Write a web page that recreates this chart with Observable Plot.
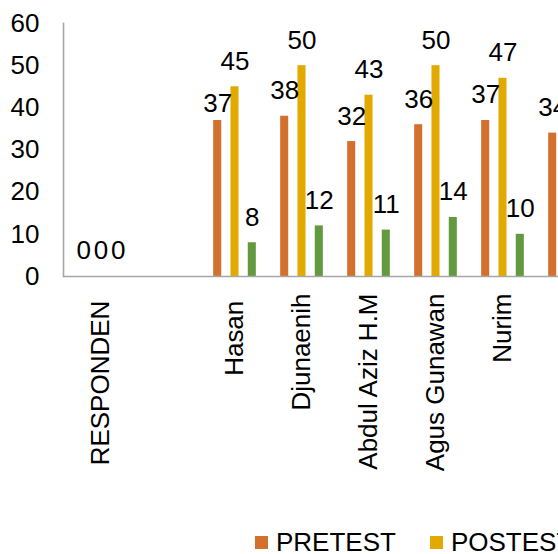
<!DOCTYPE html>
<html><head><meta charset="utf-8">
<script src="https://cdn.jsdelivr.net/npm/d3@7"></script>
<script src="https://cdn.jsdelivr.net/npm/@observablehq/plot@0.6"></script>
<style>
html,body{margin:0;padding:0;background:#fff;overflow:hidden;width:558px;height:554px;}
#wrap{position:relative;width:558px;height:554px;overflow:hidden;}
#wrap svg{max-width:none !important;position:absolute;left:0;top:0;}
#wrap svg text{white-space:pre;}
#legend{position:absolute;top:527px;left:255px;display:flex;white-space:nowrap;font-family:"Liberation Sans",Arial,sans-serif;font-size:26px;line-height:30px;color:#000;}
.item{display:flex;align-items:center;margin-right:34px;}
.sw{width:13px;height:13px;margin-right:8px;flex:none;}
</style></head><body><div id="wrap"><div id="legend"></div></div>
<script>
// Category names (first two have a trailing space in the source sheet); the 8th is cut off at the right edge
const categories = ["RESPONDEN ", "", "Hasan ", "Djunaenih", "Abdul Aziz H.M", "Agus Gunawan", "Nurim", "\u2026"];
const seriesNames = ["PRETEST", "POSTEST", "SELISIH"];
const seriesColors = ["#d4702d", "#e2aa00", "#63993f"];
const pretest = [0, null, 37, 38, 32, 36, 37, 34];
const postest = [0, null, 45, 50, 43, 50, 47, null];
const selisih = [0, null, 8, 12, 11, 14, 10, null];
const yTicks = [0, 10, 20, 30, 40, 50, 60];

const seriesValues = [pretest, postest, selisih];
const rows = [];
categories.forEach((c, i) => {
  seriesValues.forEach((arr, j) => {
    if (arr[i] != null) rows.push({category: c, series: seriesNames[j], value: arr[i]});
  });
});

const FONT = "'Liberation Sans', Arial, sans-serif";
const step = 67.95, barW = 9, barGap = 17.3;
const mL = 63, mR = 20;
const W = mL + categories.length * step + mR;
const inset = (step - barW) / 2;

const marks = [
  Plot.axisY({ticks: yTicks, tickSize: 0, tickPadding: 24, fontSize: 26, label: null}),
  Plot.axisX({tickSize: 0, tickPadding: 17, tickRotate: -90, fontSize: 26, label: null}),
];
seriesNames.forEach((s, j) => {
  const d = rows.filter(r => r.series === s);
  marks.push(Plot.barY(d, {x: "category", y: "value", fill: seriesColors[j], dx: (j - 1) * barGap, insetLeft: inset, insetRight: inset}));
});
marks.push(Plot.ruleY([0], {stroke: "#a6a6a6", strokeWidth: 1.6}));
marks.push(Plot.frame({anchor: "left", stroke: "#a6a6a6", strokeWidth: 1.6}));
seriesNames.forEach((s, j) => {
  const isLow = r => r.series === "PRETEST" && r.category === "Hasan ";
  const d = rows.filter(r => r.series === s);
  marks.push(Plot.text(d.filter(r => !isLow(r)), {x: "category", y: "value", text: r => String(r.value), dx: (j - 1) * barGap, dy: -17, lineAnchor: "bottom", fontSize: 26, fill: "#000"}));
  marks.push(Plot.text(d.filter(isLow), {x: "category", y: "value", text: r => String(r.value), dx: (j - 1) * barGap, dy: -8, lineAnchor: "bottom", fontSize: 26, fill: "#000"}));
});

const chart = Plot.plot({
  width: W, height: 490,
  marginLeft: mL, marginRight: mR, marginTop: 23, marginBottom: 214,
  style: {fontFamily: FONT, fontSize: "26px", color: "#000", background: "transparent"},
  x: {domain: categories, padding: 0, axis: null},
  y: {domain: [0, 60], axis: null},
  marks
});
document.getElementById("wrap").prepend(chart);

const legend = document.getElementById("legend");
seriesNames.forEach((s, j) => {
  const it = document.createElement("div"); it.className = "item";
  const sw = document.createElement("div"); sw.className = "sw"; sw.style.background = seriesColors[j];
  const tx = document.createElement("span"); tx.textContent = s;
  it.appendChild(sw); it.appendChild(tx); legend.appendChild(it);
});
</script></body></html>
